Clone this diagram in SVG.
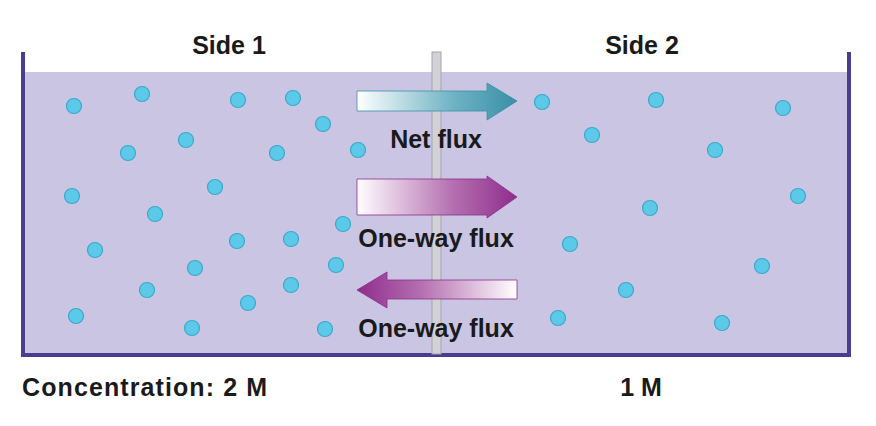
<svg xmlns="http://www.w3.org/2000/svg" width="876" height="426" viewBox="0 0 876 426">
<style>
.t{font-family:"Liberation Sans",Arial,sans-serif;font-weight:bold;fill:#1a1a1a;font-size:25px}
.d{fill:#5cc9e8;stroke:#3aa8cc;stroke-width:1.2}
</style>
<defs>
<linearGradient id="gt" x1="0" x2="1"><stop offset="0" stop-color="#ffffff"/><stop offset="0.6" stop-color="#6fb3c4"/><stop offset="1" stop-color="#3a8fa6"/></linearGradient>
<linearGradient id="gp" x1="0" x2="1"><stop offset="0" stop-color="#ffffff"/><stop offset="0.6" stop-color="#b46fb0"/><stop offset="1" stop-color="#8e2d8c"/></linearGradient>
<linearGradient id="gpl" x1="1" x2="0"><stop offset="0" stop-color="#ffffff"/><stop offset="0.6" stop-color="#b46fb0"/><stop offset="1" stop-color="#8e2d8c"/></linearGradient>
</defs>
<rect width="876" height="426" fill="#fff"/>
<g id="tank">
<rect x="24" y="72" width="824" height="283" fill="#c9c5e3"/>
<path d="M23 52 V355 H849 V52" fill="none" stroke="#4a3d8f" stroke-width="4"/>
<rect x="432" y="52" width="9" height="302" fill="#d2d2d6" stroke="#a4a4ac" stroke-width="1"/>
</g>
<g id="dots">
<circle class="d" cx="74" cy="106" r="7.5"/><circle class="d" cx="142" cy="94" r="7.5"/><circle class="d" cx="238" cy="100" r="7.5"/><circle class="d" cx="293" cy="98" r="7.5"/><circle class="d" cx="323" cy="124" r="7.5"/><circle class="d" cx="128" cy="153" r="7.5"/><circle class="d" cx="186" cy="140" r="7.5"/><circle class="d" cx="277" cy="153" r="7.5"/><circle class="d" cx="358" cy="150" r="7.5"/><circle class="d" cx="72" cy="196" r="7.5"/><circle class="d" cx="215" cy="187" r="7.5"/><circle class="d" cx="155" cy="214" r="7.5"/><circle class="d" cx="237" cy="241" r="7.5"/><circle class="d" cx="291" cy="239" r="7.5"/><circle class="d" cx="343" cy="224" r="7.5"/><circle class="d" cx="95" cy="250" r="7.5"/><circle class="d" cx="195" cy="268" r="7.5"/><circle class="d" cx="336" cy="265" r="7.5"/><circle class="d" cx="147" cy="290" r="7.5"/><circle class="d" cx="248" cy="303" r="7.5"/><circle class="d" cx="291" cy="285" r="7.5"/><circle class="d" cx="76" cy="316" r="7.5"/><circle class="d" cx="192" cy="328" r="7.5"/><circle class="d" cx="325" cy="329" r="7.5"/>
<circle class="d" cx="542" cy="102" r="7.5"/><circle class="d" cx="656" cy="100" r="7.5"/><circle class="d" cx="783" cy="108" r="7.5"/><circle class="d" cx="592" cy="135" r="7.5"/><circle class="d" cx="715" cy="150" r="7.5"/><circle class="d" cx="798" cy="196" r="7.5"/><circle class="d" cx="650" cy="208" r="7.5"/><circle class="d" cx="570" cy="244" r="7.5"/><circle class="d" cx="762" cy="266" r="7.5"/><circle class="d" cx="626" cy="290" r="7.5"/><circle class="d" cx="558" cy="318" r="7.5"/><circle class="d" cx="722" cy="323" r="7.5"/>
</g>
<g id="arrows">
<path d="M357 91 H487 V83 L517 101 L487 120 V111 H357 Z" fill="url(#gt)" stroke="#3a8fa6" stroke-width="0.8"/>
<path d="M357 179 H487 V176 L517 197 L487 218 V215 H357 Z" fill="url(#gp)" stroke="#8e2d8c" stroke-width="0.8"/>
<path d="M517 280 H387 V272 L357 290 L387 308 V299 H517 Z" fill="url(#gpl)" stroke="#8e2d8c" stroke-width="0.8"/>
</g>
<g id="labels">
<text class="t" x="229" y="54" text-anchor="middle">Side 1</text>
<text class="t" x="642" y="54" text-anchor="middle">Side 2</text>
<text class="t" x="436" y="148" text-anchor="middle">Net flux</text>
<text class="t" x="436" y="247" text-anchor="middle">One-way flux</text>
<text class="t" x="436" y="337" text-anchor="middle">One-way flux</text>
<text class="t" x="22" y="396" textLength="245">Concentration: 2 M</text>
<text class="t" x="641" y="396" text-anchor="middle">1 M</text>
</g>
</svg>
